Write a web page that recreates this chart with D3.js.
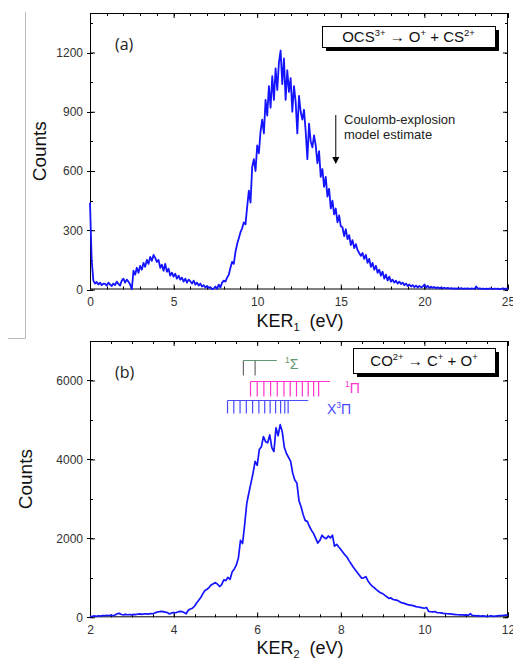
<!DOCTYPE html>
<html><head><meta charset="utf-8">
<script src="https://cdn.jsdelivr.net/npm/d3@7"></script>
<style>
html,body{margin:0;padding:0;background:#fff;}
svg{display:block;font-family:"Liberation Sans",Arial,sans-serif;}
</style></head>
<body>
<svg id="c" width="513" height="661"></svg>
<script>
// ---------- DATA ----------
// Panel (a): OCS3+ -> O+ + CS2+, KER1 from 0 to 25 eV in 0.1 eV bins
const kerAStart = 0, kerAStep = 0.1;
const countsA = [
 440,150,45,30,38,25,35,22,30,28,
 20,35,25,18,30,22,40,28,20,45,
 55,35,50,40,25,2,95,75,110,85,
 120,100,135,115,150,130,165,145,175,160,
 140,150,110,125,95,130,90,105,70,85,
 65,80,55,70,50,60,40,55,35,50,
 42,30,45,25,35,20,30,15,22,10,
 18,8,12,2,5,15,3,25,10,35,
 45,40,60,75,110,140,130,190,230,260,
 290,310,340,330,420,500,440,620,660,600,
 730,690,800,860,790,960,880,1030,920,1080,
 960,1120,1010,1150,1210,1040,1170,960,1110,1000,
 1070,900,1030,950,790,980,900,860,910,800,
 660,840,750,720,780,730,640,700,570,610,
 520,570,470,510,410,450,380,410,340,375,
 320,315,270,305,255,275,225,250,210,230,
 200,185,170,185,155,175,135,155,115,135,
 100,120,85,100,70,90,55,75,45,65,
 40,50,35,45,30,40,28,35,22,30,
 18,25,15,22,12,20,10,18,12,15,
 25,10,18,8,14,9,12,7,11,6,
 10,6,9,5,8,5,7,4,6,4,
 6,4,7,3,5,4,6,3,5,4,
 3,15,4,6,3,5,2,4,3,5,
 4,2,5,3,4,2,3,6,3,4,
 5
];
// Panel (b): CO2+ -> C+ + O+, KER2 from 2 to 12 eV in 0.05 eV bins
const kerBStart = 2, kerBStep = 0.05;
const countsB = [
 30,20,35,25,40,30,45,40,50,45,
 55,40,60,90,100,70,60,75,65,70,
 60,75,70,80,85,75,90,85,80,95,
 90,110,130,140,150,145,130,120,85,110,
 120,115,135,150,145,120,90,180,210,230,
 280,360,430,500,600,680,710,760,820,850,
 880,840,780,830,950,930,1010,960,1150,1220,
 1320,1500,1950,1870,2350,2880,3150,3400,3650,3950,
 3850,4250,4320,4580,4450,4420,4620,4300,4200,4800,
 4600,4880,4700,4300,4150,4050,3950,3650,3480,3400,
 2950,2800,2600,2450,2430,2300,2200,2120,2000,1880,
 1950,2080,2020,1990,2060,2010,2080,1800,1850,1780,
 1720,1650,1580,1520,1430,1350,1270,1200,1130,1060,
 990,1000,1030,920,850,790,750,700,660,620,
 600,560,520,480,490,450,440,430,400,370,
 360,340,320,310,300,290,270,260,250,240,
 230,250,150,140,135,145,120,115,110,100,
 95,90,85,80,75,70,65,60,65,55,
 60,50,90,45,40,35,40,30,35,30,
 25,30,40,25,30,35,40,45,50,55,
 60
];
// Tick values / labels
const xTicksA = [0,5,10,15,20,25];
const yTicksA = [0,300,600,900,1200];
const xTicksB = [2,4,6,8,10,12];
const yTicksB = [0,2000,4000,6000];
// Vibrational level markers (eV)
const levelSigma = [5.67, 5.95];
const levelSigmaEnd = 6.47;
const levelPi1 = [5.84,6.00,6.16,6.32,6.48,6.64,6.79,6.94,7.08,7.22,7.35,7.47];
const levelPi1End = 7.74;
const levelX3Pi = [5.29,5.44,5.59,5.74,5.89,6.04,6.18,6.31,6.44,6.56,6.66,6.74];
const levelX3PiEnd = 7.22;
const arrowKER = 14.7;

// ---------- DRAW ----------
const svg = d3.select("#c");
const L = 90, R = 508;

// faint crop frame at the left
svg.append("path").attr("d","M25.5,12 V338.5 H8").attr("fill","none").attr("stroke","#bdbdbd").attr("stroke-width",1);

// rich text: parts with optional superscript
function richText(t, parts, base, supSize){
  let shifted = false;
  parts.forEach(p=>{
    const ts = t.append("tspan").text(p.t);
    if(p.sup){
      ts.attr("font-size",supSize);
      if(!shifted){ ts.attr("dy",-6); shifted = true; }
    } else if(shifted){ ts.attr("dy",6); shifted = false; }
  });
}

function panel(cfg){
  const g = svg.append("g");
  const x = d3.scaleLinear().domain(cfg.xd).range([L,R]);
  const y = d3.scaleLinear().domain(cfg.yd).range([cfg.bottom,cfg.top]);
  const minorX = d3.range(cfg.xd[0], cfg.xd[1]+1e-9, cfg.xminor);
  const minorY = d3.range(cfg.yd[0], cfg.yd[1]+1e-9, cfg.yminor);
  const tk = g.append("g").attr("stroke","#000").attr("stroke-width",1);
  minorX.forEach(v=>{
    const xp = Math.round(x(v))+0.5;
    tk.append("line").attr("x1",xp).attr("x2",xp).attr("y1",cfg.bottom).attr("y2",cfg.bottom-3);
    tk.append("line").attr("x1",xp).attr("x2",xp).attr("y1",cfg.top).attr("y2",cfg.top+3);
  });
  minorY.forEach(v=>{
    const yp = Math.round(y(v))+0.5;
    tk.append("line").attr("x1",L).attr("x2",L+3).attr("y1",yp).attr("y2",yp);
    tk.append("line").attr("x1",R).attr("x2",R-3).attr("y1",yp).attr("y2",yp);
  });
  const ax = d3.axisBottom(x).tickValues(cfg.xt).tickSize(-5).tickPadding(8).tickFormat(d3.format("d"));
  const ay = d3.axisLeft(y).tickValues(cfg.yt).tickSize(-5).tickPadding(7).tickFormat(d3.format("d"));
  const gx = g.append("g").attr("transform",`translate(0,${cfg.bottom})`).call(ax);
  const gy = g.append("g").attr("transform",`translate(${L},0)`).call(ay);
  const gx2 = g.append("g").attr("transform",`translate(0,${cfg.top})`).call(d3.axisTop(x).tickValues(cfg.xt).tickSize(-5).tickFormat(""));
  const gy2 = g.append("g").attr("transform",`translate(${R},0)`).call(d3.axisRight(y).tickValues(cfg.yt).tickSize(-5).tickFormat(""));
  [gx,gy].forEach(a=>{
    a.select(".domain").remove();
    a.selectAll("text").attr("font-size",12).attr("fill","#333").attr("font-family","Liberation Sans, Arial, sans-serif");
    a.selectAll("line").attr("stroke","#000");
  });
  [gx2,gy2].forEach(a=>{
    a.select(".domain").remove();
    a.selectAll("text").remove();
    a.selectAll("line").attr("stroke","#000");
  });
  cfg.yt.forEach(v=>{
    const yp = Math.round(y(v))+0.5;
    tk.append("line").attr("x1",L-3).attr("x2",L).attr("y1",yp).attr("y2",yp);
  });
  g.append("rect").attr("x",L+0.5).attr("y",cfg.top+0.5).attr("width",R-L-1).attr("height",cfg.bottom-cfg.top-1)
    .attr("fill","none").attr("stroke","#000").attr("stroke-width",1);
  const pts = cfg.counts.map((c,i)=>[cfg.start+i*cfg.step, c]);
  g.append("path").datum(pts)
    .attr("d", d3.line().x(d=>x(d[0])).y(d=>y(d[1])))
    .attr("fill","none").attr("stroke","#1414ff").attr("stroke-width",cfg.lw).attr("stroke-linejoin","round");
  g.append("text").attr("x",115).attr("y",cfg.top+37).attr("font-size",16).attr("fill","#222")
    .attr("font-family","Open Sans, Liberation Sans, sans-serif").text(cfg.label);
  g.append("text").attr("transform",`translate(${cfg.ylx},${(cfg.top+cfg.bottom)/2}) rotate(-90)`)
    .attr("text-anchor","middle").attr("font-size",19).attr("fill","#111").text("Counts");
  const xt = g.append("text").attr("x",300).attr("y",cfg.bottom+37).attr("text-anchor","middle")
    .attr("font-size",18).attr("fill","#111");
  xt.append("tspan").text("KER");
  xt.append("tspan").attr("font-size",11).attr("dy",4).text(cfg.sub);
  xt.append("tspan").attr("dy",-4).text("\u00a0\u00a0(eV)");
  const b = cfg.box;
  g.append("rect").attr("x",b.x+4).attr("y",b.y+4).attr("width",b.w).attr("height",b.h).attr("fill","#000");
  g.append("rect").attr("x",b.x+0.5).attr("y",b.y+0.5).attr("width",b.w).attr("height",b.h).attr("fill","#fff").attr("stroke","#000");
  const lt = g.append("text").attr("x",b.x+b.w/2).attr("y",b.y+b.h/2+5.5).attr("text-anchor","middle")
    .attr("font-size",15).attr("fill","#111");
  richText(lt, cfg.legend, 15, 9.5);
  return {g,x,y};
}

const A = panel({
  xd:[0,25], yd:[0,1400], top:13, bottom:289.5, xminor:1, yminor:150,
  xt:xTicksA, yt:yTicksA, counts:countsA, start:kerAStart, step:kerAStep, lw:1.8,
  label:"(a)", sub:"1", ylx:46,
  box:{x:322,y:26,w:173,h:21},
  legend:[{t:"OCS"},{t:"3+",sup:1},{t:" \u2192 O"},{t:"+",sup:1},{t:" + CS"},{t:"2+",sup:1}]
});
const B = panel({
  xd:[2,12], yd:[0,7000], top:341, bottom:617.3, xminor:0.5, yminor:1000,
  xt:xTicksB, yt:yTicksB, counts:countsB, start:kerBStart, step:kerBStep, lw:1.7,
  label:"(b)", sub:"2", ylx:32,
  box:{x:353,y:348,w:142,h:25},
  legend:[{t:"CO"},{t:"2+",sup:1},{t:" \u2192 C"},{t:"+",sup:1},{t:" + O"},{t:"+",sup:1}]
});

// Coulomb-explosion annotation in (a)
const ax_ = A.x(arrowKER);
A.g.append("line").attr("x1",ax_).attr("x2",ax_).attr("y1",115).attr("y2",158).attr("stroke","#000").attr("stroke-width",1);
A.g.append("path").attr("d",`M${ax_-3.5},157 L${ax_+3.5},157 L${ax_},164 Z`).attr("fill","#000");
const ct = A.g.append("text").attr("x",344).attr("font-size",13).attr("fill","#222");
ct.append("tspan").attr("x",344).attr("y",124).text("Coulomb-explosion");
ct.append("tspan").attr("x",344).attr("y",139).text("model estimate");

// level markers in (b)
function levels(vals, end, yTopCount, len, col, tickCol, label, lx, ly, lcol){
  const yp = Math.round(B.y(yTopCount))+0.5;
  const gg = B.g.append("g");
  gg.append("line").attr("x1",B.x(vals[0])).attr("x2",B.x(end)).attr("y1",yp).attr("y2",yp).attr("stroke",col).attr("stroke-width",1.2);
  vals.forEach(v=>{
    gg.append("line").attr("x1",B.x(v)).attr("x2",B.x(v)).attr("y1",yp).attr("y2",yp+len).attr("stroke",tickCol).attr("stroke-width",1.2);
  });
  const t = gg.append("text").attr("x",lx).attr("y",ly).attr("font-size",14).attr("fill",lcol);
  richText(t, label, 14, 8.5);
}
levels(levelSigma, levelSigmaEnd, 6510, 15, "#5f9a72", "#6a6a6a", [{t:"1",sup:1},{t:"\u03a3"}], 285, 369, "#5f9a72");
levels(levelPi1, levelPi1End, 5980, 15, "#ff33cc", "#ff33cc", [{t:"1",sup:1},{t:"\u03a0"}], 345, 393, "#ff33cc");
levels(levelX3Pi, levelX3PiEnd, 5510, 13, "#4a4aff", "#4a4aff", [{t:"X"},{t:"3",sup:1},{t:"\u03a0"}], 327, 414, "#4a4aff");
</script>
</body></html>
